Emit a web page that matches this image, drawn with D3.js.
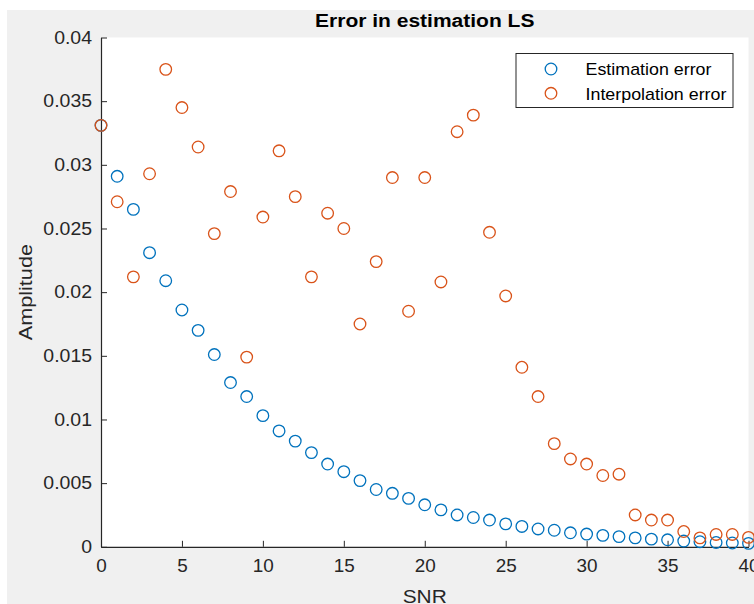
<!DOCTYPE html>
<html>
<head>
<meta charset="utf-8">
<script src="https://cdn.jsdelivr.net/npm/d3@7"></script>
<style>
  html, body { margin: 0; padding: 0; background: #ffffff; }
  svg { display: block; }
  text { font-family: "Liberation Sans", Arial, Helvetica, sans-serif; }
</style>
</head>
<body>
<svg id="chart" width="754" height="604"></svg>
<script>
// SNR sweep (dB)
const snr = d3.range(0, 41);

// Mean error of the LS channel estimate at each SNR
const estimationError = [
  0.0331, 0.0291, 0.0265, 0.0231, 0.0209, 0.0186, 0.0170, 0.0151, 0.0129, 0.0118,
  0.0103, 0.0091, 0.0083, 0.0074, 0.0065, 0.0059, 0.0052, 0.0045, 0.0042, 0.0038,
  0.0033, 0.0029, 0.0025, 0.0023, 0.0021, 0.0018, 0.0016, 0.0014, 0.0013, 0.0011,
  0.0010, 0.0009, 0.0008, 0.0007, 0.0006, 0.00055, 0.00045, 0.0004, 0.00034, 0.0003,
  0.00027
];

// Error after interpolating the estimate across subcarriers
const interpolationError = [
  0.0331, 0.0271, 0.0212, 0.0293, 0.0375, 0.0345, 0.0314, 0.0246, 0.0279, 0.0149,
  0.0259, 0.0311, 0.0275, 0.0212, 0.0262, 0.0250, 0.0175, 0.0224, 0.0290, 0.0185,
  0.0290, 0.0208, 0.0326, 0.0339, 0.0247, 0.0197, 0.0141, 0.0118, 0.0081, 0.0069,
  0.0065, 0.0056, 0.0057, 0.0025, 0.0021, 0.0021, 0.0012, 0.0007, 0.00097, 0.00097,
  0.00074
];

const xTicks = [0, 5, 10, 15, 20, 25, 30, 35, 40];
const yTicks = [0, 0.005, 0.01, 0.015, 0.02, 0.025, 0.03, 0.035, 0.04];
const seriesNames = ["Estimation error", "Interpolation error"];
const seriesColors = ["#0072BD", "#D95319"];

const svg = d3.select("#chart");
const W = 754, H = 604;
const plot = { left: 101, right: 748.5, top: 37.5, bottom: 546.8 };
const ink = "#262626";

// figure background
svg.append("rect").attr("x", 7).attr("y", 10).attr("width", W - 7).attr("height", H - 10)
  .attr("fill", "#f0f0f0");
// axes background
svg.append("rect").attr("x", plot.left).attr("y", plot.top)
  .attr("width", plot.right - plot.left).attr("height", plot.bottom - plot.top)
  .attr("fill", "#ffffff");

const x = d3.scaleLinear().domain([0, 40]).range([plot.left, plot.right]);
const y = d3.scaleLinear().domain([0, 0.04]).range([plot.bottom, plot.top]);

// stretch a label horizontally to a given width factor
function widen(sel, factor) {
  sel.each(function () {
    const len = this.getComputedTextLength();
    d3.select(this).attr("textLength", len * factor).attr("lengthAdjust", "spacingAndGlyphs");
  });
}

const xAxis = svg.append("g")
  .attr("transform", `translate(0,${plot.bottom})`)
  .call(d3.axisBottom(x).tickValues(xTicks).tickFormat(d3.format("d"))
    .tickSizeInner(-6).tickSizeOuter(0).tickPadding(12));
const yAxis = svg.append("g")
  .attr("transform", `translate(${plot.left},0)`)
  .call(d3.axisLeft(y).tickValues(yTicks).tickFormat(d => d === 0 ? "0" : String(+d.toFixed(3)))
    .tickSizeInner(-6).tickSizeOuter(0).tickPadding(9));

[xAxis, yAxis].forEach(g => {
  g.select(".domain").attr("stroke", ink).attr("stroke-width", 1.2);
  g.selectAll(".tick line").attr("stroke", ink).attr("stroke-width", 1);
  g.selectAll(".tick text").attr("fill", ink).style("font-size", "18px")
    .style("font-family", "'Liberation Sans', Arial, sans-serif");
});
widen(yAxis.selectAll(".tick text"), 1.08);
widen(xAxis.selectAll(".tick text"), 1.05);

// series markers
const series = [estimationError, interpolationError];
series.forEach((vals, i) => {
  svg.append("g").selectAll("circle")
    .data(snr.map((s, k) => ({ s, v: vals[k] })))
    .join("circle")
    .attr("cx", d => x(d.s))
    .attr("cy", d => y(d.v))
    .attr("r", 5.8)
    .attr("fill", "none")
    .attr("stroke", seriesColors[i])
    .attr("stroke-width", 1.3);
});

// title
const title = svg.append("text").attr("x", (plot.left + plot.right) / 2).attr("y", 27)
  .attr("text-anchor", "middle").attr("fill", "#000")
  .style("font-size", "17.5px").style("font-weight", "bold")
  .text("Error in estimation LS");
widen(title, 1.2);

// axis labels
const xl = svg.append("text").attr("x", (plot.left + plot.right) / 2).attr("y", 603)
  .attr("text-anchor", "middle").attr("fill", ink).style("font-size", "19px").text("SNR");
widen(xl, 1.1);
const yl = svg.append("text")
  .attr("transform", `translate(32,${(plot.top + plot.bottom) / 2}) rotate(-90)`)
  .attr("text-anchor", "middle").attr("fill", ink).style("font-size", "18.5px").text("Amplitude");
widen(yl, 1.17);

// legend
const lg = svg.append("g");
lg.append("rect").attr("x", 516).attr("y", 53.5).attr("width", 217).attr("height", 54)
  .attr("fill", "#ffffff").attr("stroke", ink).attr("stroke-width", 1);
seriesNames.forEach((name, i) => {
  const cy = 69 + i * 24.3;
  lg.append("circle").attr("cx", 551).attr("cy", cy).attr("r", 5.8)
    .attr("fill", "none").attr("stroke", seriesColors[i]).attr("stroke-width", 1.3);
  const t = lg.append("text").attr("x", 585.5).attr("y", cy + 6.3)
    .attr("fill", "#000").style("font-size", "17px").text(name);
  widen(t, 1.05);
});
</script>
</body>
</html>
